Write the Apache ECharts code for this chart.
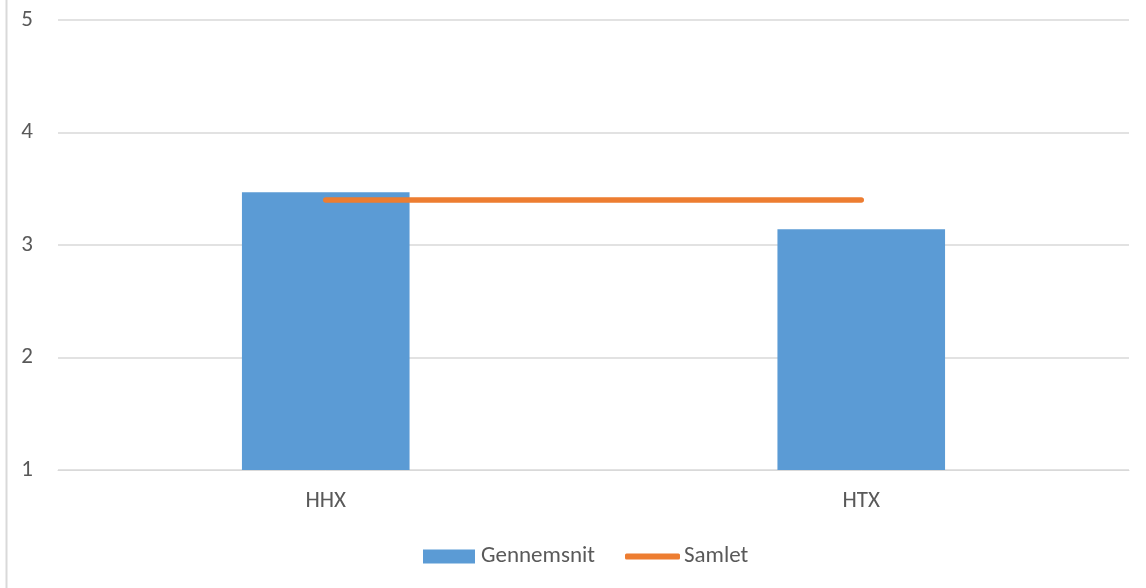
<!DOCTYPE html>
<html>
<head>
<meta charset="utf-8">
<script src="https://cdn.jsdelivr.net/npm/echarts@6/dist/echarts.min.js"></script>
<style>
  html, body { margin: 0; padding: 0; background: #fff; }
  #main { width: 1146px; height: 588px; }
</style>
</head>
<body>
<div id="main"></div>
<script>
// data
var categories = ['HHX', 'HTX'];
var gennemsnit = [3.47, 3.14];
var samlet = [3.40, 3.40];
var yTicks = [1, 2, 3, 4, 5];

var myChart = echarts.init(document.getElementById('main'));
var textColor = '#595959';
var fontFam = 'Carlito, "Liberation Sans", "Open Sans", sans-serif';

var option = {
  animation: false,
  backgroundColor: '#fff',
  textStyle: { fontFamily: fontFam },
  graphic: [
    {
      type: 'line',
      shape: { x1: 6.5, y1: 0, x2: 6.5, y2: 588 },
      style: { stroke: '#D9D9D9', lineWidth: 2 }
    }
  ],
  grid: {
    left: 58,
    right: 17,
    top: 20,
    bottom: 118
  },
  // two legends so each icon can have its own size
  legend: [
    {
      left: 423,
      top: 545,
      padding: 0,
      itemWidth: 52,
      itemHeight: 14,
      itemGap: 0,
      textStyle: { color: textColor, fontSize: 23, fontFamily: fontFam, padding: [0, 0, 0, 1] },
      data: [{ name: 'Gennemsnit', icon: 'rect' }]
    },
    {
      left: 625,
      top: 545,
      padding: 0,
      itemWidth: 55,
      itemHeight: 6,
      itemGap: 0,
      textStyle: { color: textColor, fontSize: 23, fontFamily: fontFam, padding: [0, 0, 0, -1] },
      data: [{ name: 'Samlet', icon: 'roundRect' }]
    }
  ],
  xAxis: {
    type: 'category',
    data: categories,
    axisLine: { show: true, lineStyle: { color: '#D9D9D9', width: 1 } },
    axisTick: { show: false },
    axisLabel: { color: textColor, fontSize: 23, margin: 20 }
  },
  yAxis: {
    type: 'value',
    min: yTicks[0],
    max: yTicks[yTicks.length - 1],
    interval: 1,
    axisLine: { show: false },
    axisTick: { show: false },
    axisLabel: { color: textColor, fontSize: 23, margin: 25 },
    splitLine: { lineStyle: { color: '#D9D9D9', width: 1.5 } }
  },
  series: [
    {
      name: 'Gennemsnit',
      type: 'bar',
      data: gennemsnit,
      barWidth: '31.3%',
      itemStyle: { color: '#5B9BD5' }
    },
    {
      name: 'Samlet',
      type: 'line',
      data: samlet,
      symbol: 'none',
      lineStyle: { color: '#ED7D31', width: 5.5, cap: 'round' },
      itemStyle: { color: '#ED7D31' }
    }
  ]
};

myChart.setOption(option);
</script>
</body>
</html>
